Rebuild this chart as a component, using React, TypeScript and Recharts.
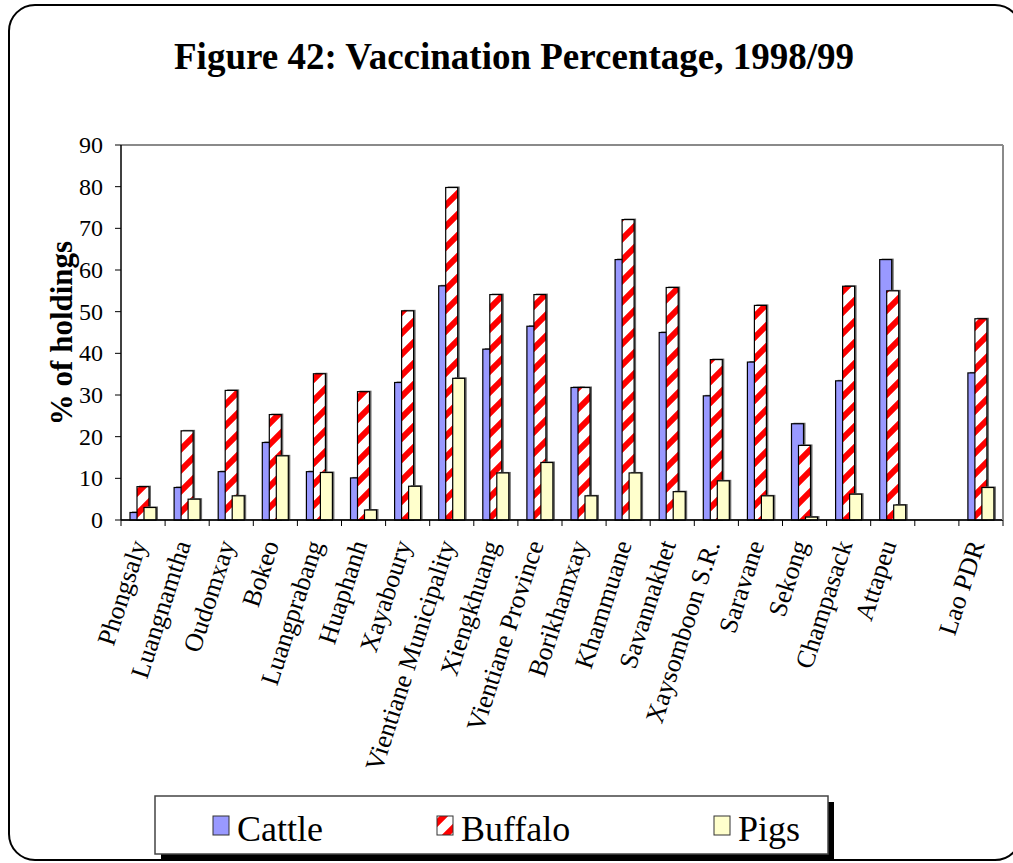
import React from "react";
import {
  BarChart,
  Bar,
  XAxis,
  YAxis,
  CartesianGrid,
  ReferenceLine,
} from "recharts";

const regions = [
  "Phongsaly",
  "Luangnamtha",
  "Oudomxay",
  "Bokeo",
  "Luangprabang",
  "Huaphanh",
  "Xayaboury",
  "Vientiane Municipality",
  "Xiengkhuang",
  "Vientiane Province",
  "Borikhamxay",
  "Khammuane",
  "Savannakhet",
  "Xaysomboon S.R.",
  "Saravane",
  "Sekong",
  "Champasack",
  "Attapeu",
  "",
  "Lao PDR",
];

const cattle = [
  1.8, 7.8, 11.6, 18.6, 11.6, 10.1, 33.0, 56.2, 41.0, 46.5, 31.8, 62.5, 45.0,
  29.8, 37.9, 23.1, 33.4, 62.5, null, 35.3,
];
const buffalo = [
  8.0, 21.4, 31.1, 25.3, 35.1, 30.8, 50.2, 79.8, 54.1, 54.1, 31.8, 72.1, 55.8,
  38.5, 51.5, 17.9, 56.1, 55.0, null, 48.3,
];
const pigs = [
  3.0, 5.0, 5.8, 15.4, 11.4, 2.4, 8.1, 34.0, 11.3, 13.8, 5.8, 11.3, 6.8, 9.4,
  5.8, 0.7, 6.2, 3.6, null, 7.8,
];

const yTicks = [0, 10, 20, 30, 40, 50, 60, 70, 80, 90];

const series = [
  { key: "cattle", name: "Cattle", fill: "#9999ff" },
  { key: "buffalo", name: "Buffalo", fill: "url(#buffaloStripes)" },
  { key: "pigs", name: "Pigs", fill: "#ffffcc" },
];

const chartData = regions.map((region, i) => ({
  region,
  cattle: cattle[i],
  buffalo: buffalo[i],
  pigs: pigs[i],
}));

const FONT = "Liberation Serif, Times New Roman, serif";
const W = 1013;
const H = 863;

const Stripes = ({ id }: { id: string }) => (
  <pattern id={id} patternUnits="userSpaceOnUse" width={21} height={21}>
    <rect width={21} height={21} fill="#ffffff" />
    <path
      d="M-5,5 L5,-5 M0,21 L21,0 M16,26 L26,16"
      stroke="#ff0000"
      strokeWidth={6}
    />
  </pattern>
);

const ShadowBar = (props: any) => {
  const { x, y, width, height, fill } = props;
  if (!height || height <= 0) return null;
  return (
    <g>
      <rect x={x + 2} y={y - 1} width={width} height={height + 1} fill="#6a6a6a" />
      <rect
        x={x}
        y={y}
        width={width}
        height={height}
        fill={fill}
        stroke="#000"
        strokeWidth={1.2}
      />
    </g>
  );
};

const CategoryTick = (props: any) => {
  const { x, y, payload, index } = props;
  const half = payload.offset ?? 22;
  const isLast = index === regions.length - 1;
  const tx = x + 4;
  const ty = y + 16;
  return (
    <g>
      <line x1={x - half} x2={x - half} y1={y - 8} y2={y - 2} stroke="#000" />
      {isLast && (
        <line x1={x + half} x2={x + half} y1={y - 8} y2={y - 2} stroke="#000" />
      )}
      <text
        x={tx}
        y={ty}
        transform={`rotate(-72, ${tx}, ${ty})`}
        textAnchor="end"
        fontSize={26}
        style={{ fontFamily: FONT }}
        fill="#000"
      >
        {payload.value}
      </text>
    </g>
  );
};

const YTick = (props: any) => {
  const { x, y, payload } = props;
  return (
    <text
      x={x - 10}
      y={y + 8}
      textAnchor="end"
      fontSize={24}
      style={{ fontFamily: FONT }}
      fill="#000"
    >
      {payload.value}
    </text>
  );
};

const App = () => {
  return (
    <div
      style={{
        position: "absolute",
        left: 0,
        top: 0,
        width: W,
        height: H,
        overflow: "hidden",
        background: "#fff",
      }}
    >
      <div style={{ position: "absolute", left: 0, top: 0 }}>
        <BarChart
          width={W}
          height={H}
          data={chartData}
          margin={{ top: 145, right: 0, bottom: 303, left: 0 }}
          barSize={12}
          barGap={-5}
        >
          <defs>
            <Stripes id="buffaloStripes" />
          </defs>
          <CartesianGrid vertical={false} stroke="#000" strokeOpacity={1} />
          <XAxis
            dataKey="region"
            height={40}
            interval={0}
            tickSize={6}
            tickLine={false}
            axisLine={{ stroke: "#000", strokeWidth: 1.5 }}
            tick={<CategoryTick />}
          />
          <YAxis
            yAxisId="left"
            width={121}
            domain={[0, 90]}
            ticks={yTicks}
            interval={0}
            tickSize={6}
            tickMargin={2}
            tickLine={{ stroke: "#000" }}
            axisLine={{ stroke: "#000", strokeWidth: 1.5 }}
            tick={<YTick />}
          />
          <YAxis
            yAxisId="right"
            orientation="right"
            width={10}
            tick={false}
            tickLine={false}
            axisLine={{ stroke: "#8a8a8a", strokeWidth: 2 }}
          />
          <ReferenceLine
            yAxisId="left"
            y={90}
            stroke="#8a8a8a"
            strokeWidth={2}
          />
          {series.map((s) => (
            <Bar
              key={s.key}
              yAxisId="left"
              dataKey={s.key}
              name={s.name}
              fill={s.fill}
              shape={<ShadowBar />}
              isAnimationActive={false}
            />
          ))}
        </BarChart>
      </div>
      <svg
        width={W}
        height={H}
        style={{ position: "absolute", left: 0, top: 0, pointerEvents: "none" }}
      >
        <defs>
          <Stripes id="legendStripes" />
        </defs>
        <rect
          x={9}
          y={5}
          width={1012}
          height={855}
          rx={26}
          fill="none"
          stroke="#000"
          strokeWidth={2}
        />
        <text
          x={514}
          y={69}
          textAnchor="middle"
          fontSize={37}
          fontWeight="bold"
          style={{ fontFamily: FONT }}
          fill="#000"
        >
          Figure 42: Vaccination Percentage, 1998/99
        </text>
        <text
          x={72}
          y={333}
          transform="rotate(-90, 72, 333)"
          textAnchor="middle"
          fontSize={31}
          fontWeight="bold"
          style={{ fontFamily: FONT }}
          fill="#000"
        >
          % of holdings
        </text>
        <rect x={161} y={802} width={673} height={58} fill="#000" />
        <rect
          x={155}
          y={796}
          width={673}
          height={58}
          fill="#fff"
          stroke="#444"
          strokeWidth={1.5}
        />
        {series.map((s, i) => {
          const sx = [213, 437, 714][i];
          return (
            <g key={s.key}>
              <rect
                x={sx}
                y={816}
                width={16}
                height={19}
                fill={s.key === "buffalo" ? "url(#legendStripes)" : s.fill}
                stroke="#333"
                strokeWidth={1}
              />
              <text
                x={sx + 24}
                y={841}
                fontSize={36}
                style={{ fontFamily: FONT }}
                fill="#000"
              >
                {s.name}
              </text>
            </g>
          );
        })}
      </svg>
    </div>
  );
};

export default App;
